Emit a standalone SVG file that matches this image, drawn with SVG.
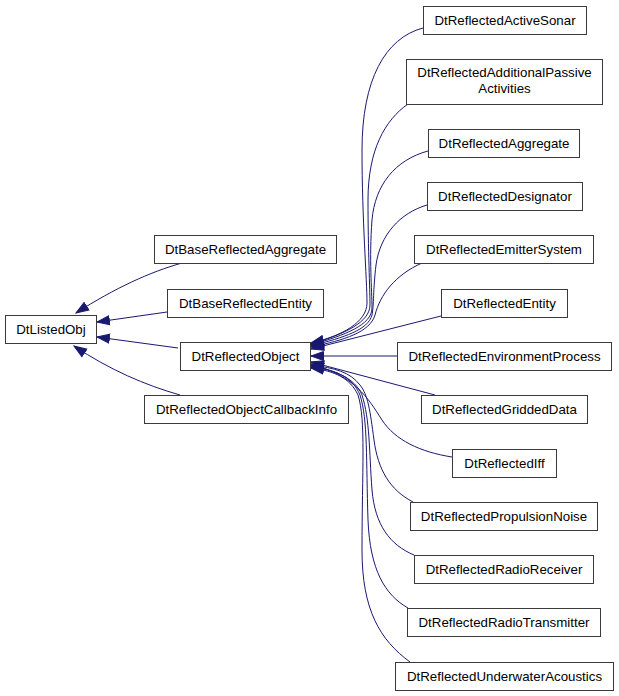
<svg xmlns="http://www.w3.org/2000/svg" width="619" height="696" viewBox="0 0 619 696">
<style>
.node rect{fill:#ffffff;stroke:#3a3a3a;stroke-width:1}
.node text{font-family:"Liberation Sans",Arial,sans-serif;font-size:13.3px;fill:#000000;text-anchor:middle}
.edge{fill:none;stroke:#191970;stroke-width:1;marker-end:url(#ah)}
</style>
<defs>
<marker id="ah" markerWidth="15" markerHeight="11" refX="13" refY="5.5" orient="auto" markerUnits="userSpaceOnUse">
<path d="M0.5,1 L13,5.5 L0.5,10 Z" fill="#191970" stroke="#191970" stroke-width="1"/>
</marker>
</defs>
<rect width="619" height="696" fill="#ffffff"/>
<g id="connectors">
<path class="edge" d="M182,263 C150,272 115,288 76,313"/>
<path class="edge" d="M167,312 L97,322"/>
<path class="edge" d="M178,348 L97,337"/>
<path class="edge" d="M180,395 C145,385 110,370 74,346"/>
<path class="edge" d="M423,28 C385,38 362,80 362,150 C362,220 367,280 367,303 C367,322 342,336 311,343"/>
<path class="edge" d="M408,104 C385,120 368,150 368,200 C368,250 370,290 370,305 C370,322 345,334 311,344"/>
<path class="edge" d="M428,151 C395,160 375,185 372,220 C369,260 372,290 372,308 C372,325 345,335 311,345"/>
<path class="edge" d="M427,205 C400,213 380,235 376,265 C373,290 374,305 372,315 C368,330 345,337 311,346"/>
<path class="edge" d="M422,263 C395,275 380,295 375,315 C370,332 345,340 311,347"/>
<path class="edge" d="M441,316 L311,349"/>
<path class="edge" d="M397,356 L311,356"/>
<path class="edge" d="M435,395 L311,362"/>
<path class="edge" d="M452,457 C420,452 395,440 382,420 C368,398 355,376 311,364"/>
<path class="edge" d="M413,502 C390,490 378,470 374,440 C370,410 368,395 360,385 C350,372 335,368 311,365"/>
<path class="edge" d="M414,555 C390,545 375,525 372,490 C369,450 370,420 362,395 C355,378 335,370 311,366"/>
<path class="edge" d="M408,608 C385,595 370,570 368,520 C366,460 368,420 360,395 C352,376 335,370 311,367"/>
<path class="edge" d="M410,662 C380,640 362,610 362,550 C362,470 366,420 358,395 C350,378 335,371 311,368"/>
</g>
<g id="DtListedObj" class="node"><rect x="5.5" y="315.5" width="91" height="28"/><text x="51" y="334">DtListedObj</text></g>
<g id="DtBaseReflectedAggregate" class="node"><rect x="154.5" y="235.5" width="182" height="28"/><text x="245.5" y="254">DtBaseReflectedAggregate</text></g>
<g id="DtBaseReflectedEntity" class="node"><rect x="167.5" y="289.5" width="156" height="28"/><text x="245.5" y="308">DtBaseReflectedEntity</text></g>
<g id="DtReflectedObject" class="node"><rect x="180.5" y="342.5" width="130" height="28"/><text x="245.5" y="361">DtReflectedObject</text></g>
<g id="DtReflectedObjectCallbackInfo" class="node"><rect x="144.5" y="395.5" width="204" height="28"/><text x="246.5" y="414">DtReflectedObjectCallbackInfo</text></g>
<g id="DtReflectedActiveSonar" class="node"><rect x="423.5" y="6.5" width="163" height="28"/><text x="505" y="25">DtReflectedActiveSonar</text></g>
<g id="DtReflectedAdditionalPassiveActivities" class="node"><rect x="406.5" y="59.5" width="196" height="45"/><text x="504.5" y="77">DtReflectedAdditionalPassive</text><text x="504.5" y="93">Activities</text></g>
<g id="DtReflectedAggregate" class="node"><rect x="428.5" y="129.5" width="151" height="28"/><text x="504" y="148">DtReflectedAggregate</text></g>
<g id="DtReflectedDesignator" class="node"><rect x="427.5" y="182.5" width="155" height="28"/><text x="505" y="201">DtReflectedDesignator</text></g>
<g id="DtReflectedEmitterSystem" class="node"><rect x="414.5" y="235.5" width="179" height="28"/><text x="504" y="254">DtReflectedEmitterSystem</text></g>
<g id="DtReflectedEntity" class="node"><rect x="441.5" y="289.5" width="126" height="28"/><text x="504.5" y="308">DtReflectedEntity</text></g>
<g id="DtReflectedEnvironmentProcess" class="node"><rect x="397.5" y="342.5" width="214" height="28"/><text x="504.5" y="361">DtReflectedEnvironmentProcess</text></g>
<g id="DtReflectedGriddedData" class="node"><rect x="421.5" y="395.5" width="166" height="28"/><text x="504.5" y="414">DtReflectedGriddedData</text></g>
<g id="DtReflectedIff" class="node"><rect x="452.5" y="449.5" width="104" height="28"/><text x="504.5" y="468">DtReflectedIff</text></g>
<g id="DtReflectedPropulsionNoise" class="node"><rect x="410.5" y="502.5" width="187" height="28"/><text x="504" y="521">DtReflectedPropulsionNoise</text></g>
<g id="DtReflectedRadioReceiver" class="node"><rect x="414.5" y="555.5" width="179" height="28"/><text x="504" y="574">DtReflectedRadioReceiver</text></g>
<g id="DtReflectedRadioTransmitter" class="node"><rect x="407.5" y="608.5" width="193" height="28"/><text x="504" y="627">DtReflectedRadioTransmitter</text></g>
<g id="DtReflectedUnderwaterAcoustics" class="node"><rect x="395.5" y="662.5" width="218" height="28"/><text x="504.5" y="681">DtReflectedUnderwaterAcoustics</text></g>
</svg>
